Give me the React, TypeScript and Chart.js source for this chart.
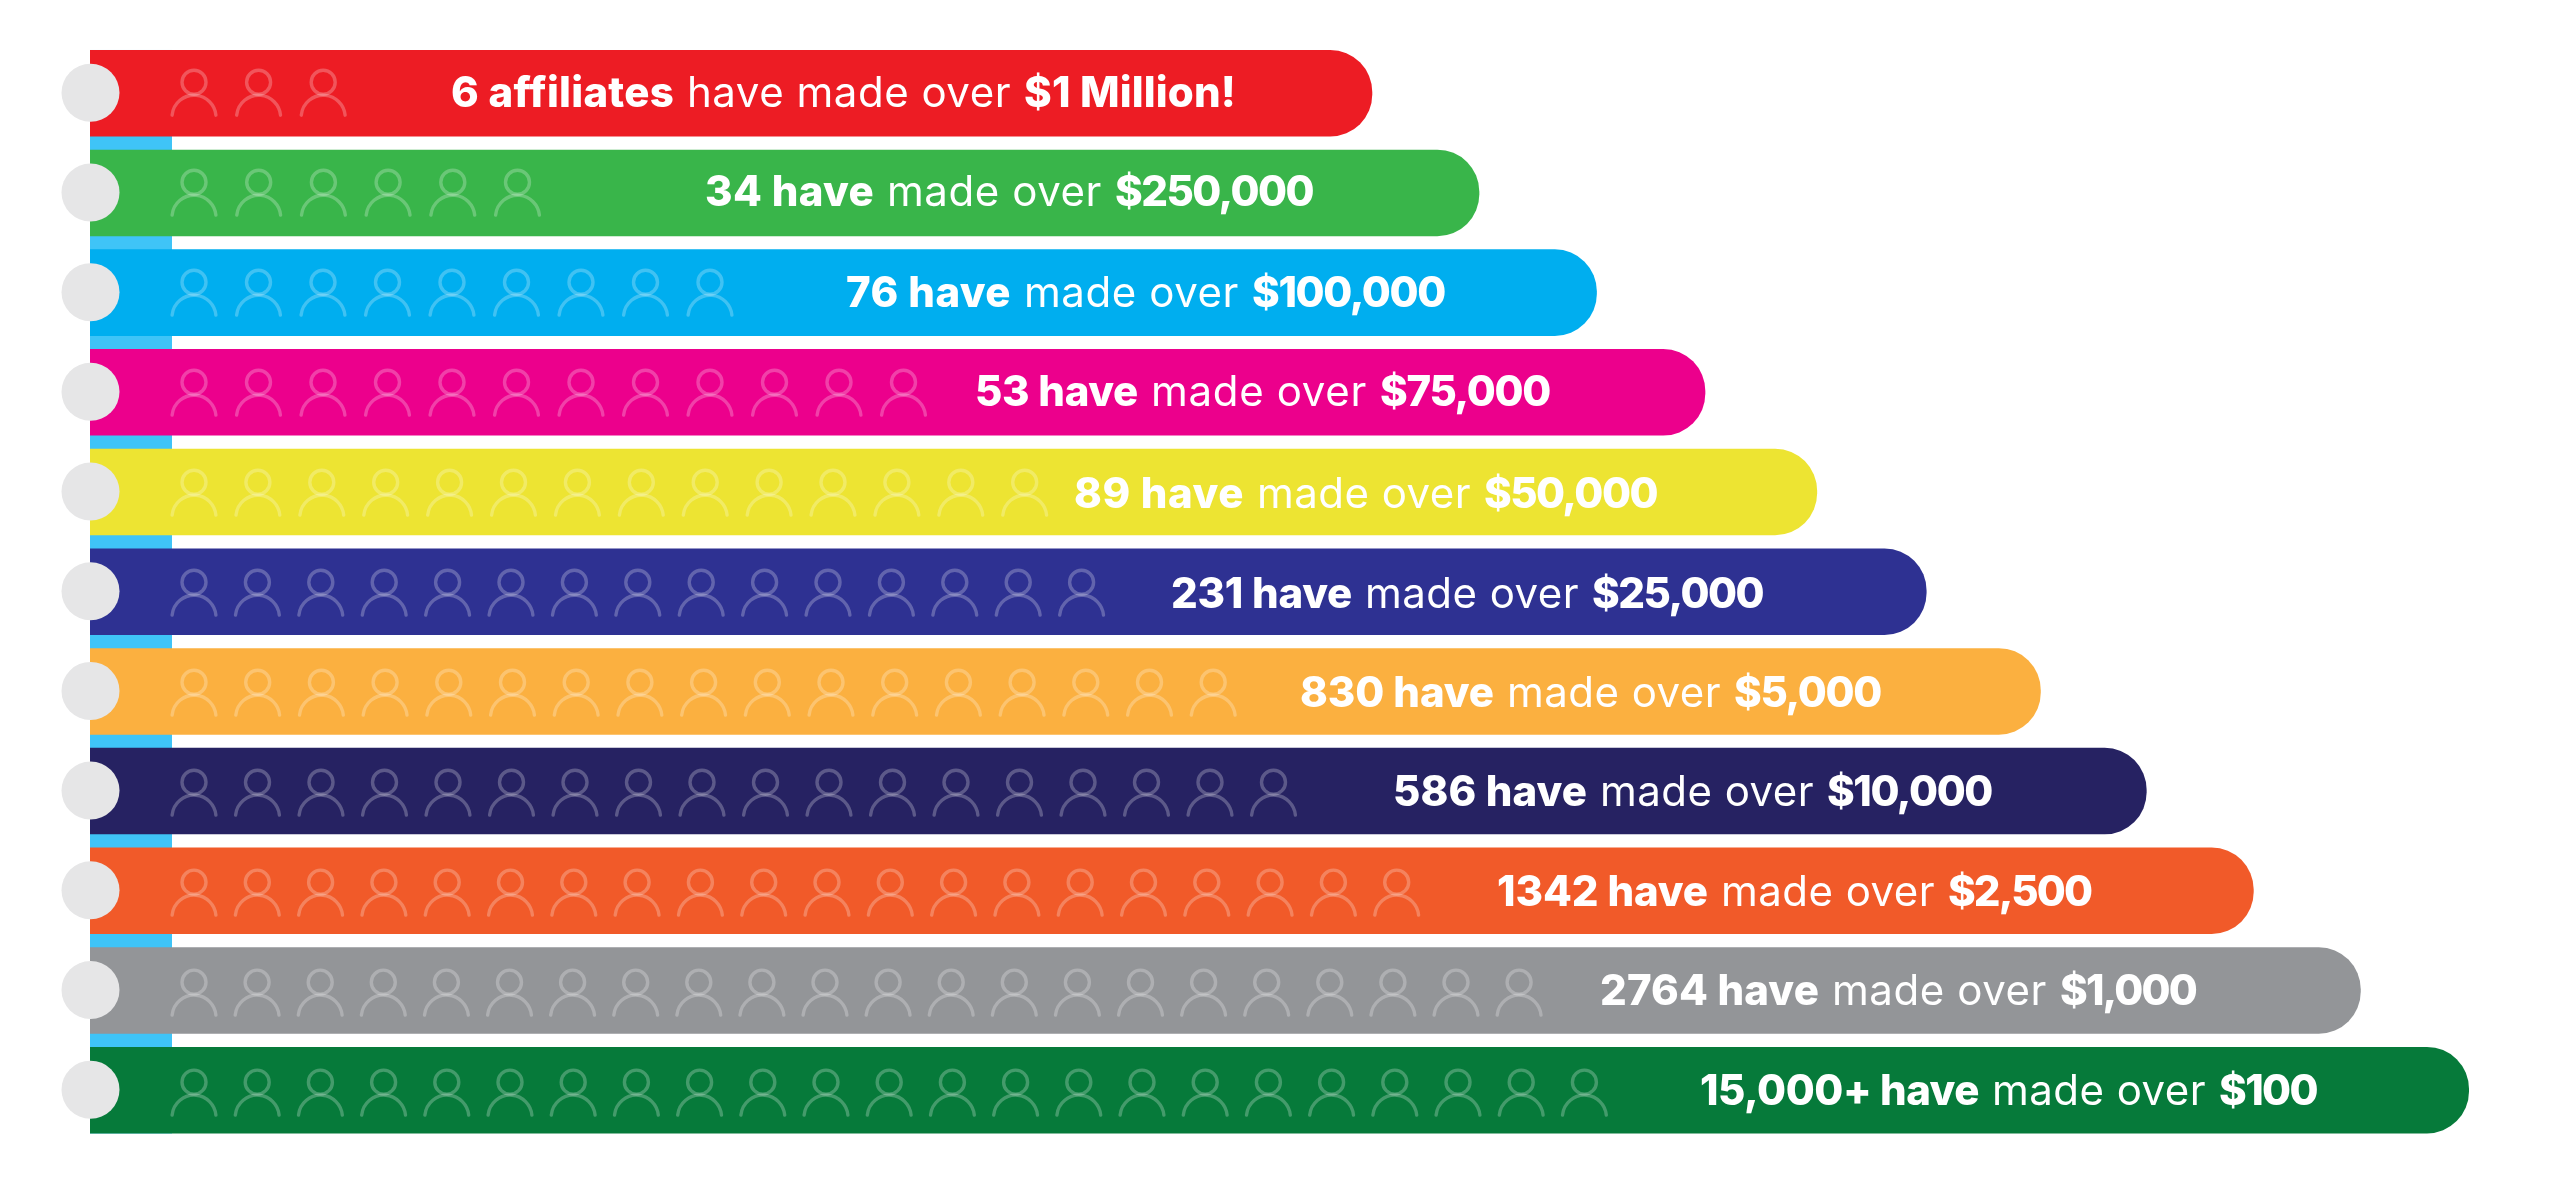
import React, { useEffect, useRef } from "react";
import { Chart, registerables } from "chart.js";

Chart.register(...registerables);

// ---- data ----
const thresholds = ["$1 Million!", "$250,000", "$100,000", "$75,000", "$50,000", "$25,000", "$5,000", "$10,000", "$2,500", "$1,000", "$100"];
const countLabels = ["6 affiliates", "34 have", "76 have", "53 have", "89 have", "231 have", "830 have", "586 have", "1342 have", "2764 have", "15,000+ have"];
const middleLabels = ["have made over", "made over", "made over", "made over", "made over", "made over", "made over", "made over", "made over", "made over", "made over"];
const barLengths = [53.9, 58.4, 63.34, 67.9, 72.6, 77.2, 82.0, 86.45, 90.95, 95.45, 100];
const personIcons = [3, 6, 9, 12, 14, 15, 17, 18, 20, 22, 23];
const barColors = ["#ED1C24", "#39B54A", "#00AEEF", "#EC008C", "#EDE432", "#2E3192", "#FBB040", "#262262", "#F15A29", "#939598", "#067A3A"];

// ---- layout of the overlays, in pixels ----
const textStops = [
  [451, 687, 1024, 1236],
  [705, 887, 1115, 1313],
  [846, 1024, 1252, 1445],
  [975, 1151, 1380, 1550],
  [1074, 1257, 1484, 1657],
  [1171, 1365, 1592, 1763],
  [1300, 1507, 1734, 1881],
  [1393, 1600, 1827, 1992],
  [1497, 1721, 1948, 2091],
  [1600, 1832, 2060, 2196],
  [1700, 1992, 2219, 2317],
];
const textDrop = [14, 13, 14, 14, 16, 16, 16, 15, 15, 15, 15];
const iconPitch = [64.6, 64.7, 64.5, 64.5, 63.9, 63.4, 63.7, 63.5, 63.3, 63.1, 63.2];
const FONT = "Inter, 'Open Sans', sans-serif";

const overlay = {
  id: "overlay",
  beforeDatasetsDraw(chart: any) {
    const { ctx, scales } = chart;
    const meta = chart.getDatasetMeta(0);
    const left = scales.x.getPixelForValue(0);
    const first = meta.data[0];
    const last = meta.data[meta.data.length - 1];
    ctx.save();
    ctx.fillStyle = "#3FC4F7";
    ctx.fillRect(left, first.y - first.height / 2, 82, last.y - first.y + first.height);
    ctx.restore();
  },
  afterDatasetsDraw(chart: any) {
    const { ctx, scales } = chart;
    const meta = chart.getDatasetMeta(0);
    const left = scales.x.getPixelForValue(0);
    ctx.save();
    meta.data.forEach((bar: any, i: number) => {
      const cy = bar.y;
      const shift = i * 0.3;
      // people
      ctx.save();
      (ctx as any).filter = "blur(0.6px)";
      ctx.strokeStyle = "rgba(255,255,255,0.25)";
      ctx.lineWidth = 3.4;
      ctx.lineCap = "round";
      for (let k = 0; k < personIcons[i]; k++) {
        const cx = left + 104 + k * iconPitch[i];
        ctx.beginPath();
        ctx.arc(cx, cy - 11 + shift, 12, 0, Math.PI * 2);
        ctx.stroke();
        ctx.beginPath();
        ctx.arc(cx, cy + 24 + shift, 22, Math.PI * 1.03, Math.PI * 1.97);
        ctx.stroke();
      }
      ctx.restore();
      // grey disc on the spine
      ctx.fillStyle = "#E6E6E7";
      ctx.beginPath();
      ctx.arc(left + 0.5, cy - 0.5, 29, 0, Math.PI * 2);
      ctx.fill();
      // label: bold / regular / bold, each fitted to its span in the picture
      const parts: [string, string][] = [
        [countLabels[i], "800 42px " + FONT],
        [middleLabels[i], "400 42px " + FONT],
        [thresholds[i], "800 42px " + FONT],
      ];
      const stops = textStops[i];
      const ends = [stops[1] - 13, stops[2] - 13, stops[3]];
      ctx.textBaseline = "alphabetic";
      ctx.textAlign = "left";
      ctx.fillStyle = "#FFFFFF";
      parts.forEach(([t, f], p) => {
        ctx.font = f;
        (ctx as any).letterSpacing = "0px";
        const natural = ctx.measureText(t).width;
        const spacing = (ends[p] - stops[p] - natural) / t.length;
        (ctx as any).letterSpacing = spacing.toFixed(2) + "px";
        ctx.fillText(t, stops[p], cy + textDrop[i]);
      });
      (ctx as any).letterSpacing = "0px";
    });
    ctx.restore();
  },
};

export default function App() {
  const ref = useRef<HTMLCanvasElement>(null);
  useEffect(() => {
    document.body.style.margin = "0";
    document.body.style.background = "#fff";
    const chart = new Chart(ref.current!, {
      type: "bar",
      data: {
        labels: thresholds,
        datasets: [
          {
            data: barLengths,
            backgroundColor: barColors,
            borderWidth: 0,
            borderSkipped: false,
            borderRadius: { topLeft: 0, bottomLeft: 0, topRight: 42, bottomRight: 42 },
            barPercentage: 0.868,
            categoryPercentage: 1,
          },
        ],
      },
      plugins: [overlay],
      options: {
        indexAxis: "y",
        animation: false,
        responsive: false,
        devicePixelRatio: 1,
        layout: { padding: { left: 90, right: 91, top: 43.4, bottom: 45 } },
        plugins: { legend: { display: false }, tooltip: { enabled: false }, title: { display: false } },
        scales: {
          x: { display: false, min: 0, max: 100 },
          y: { display: false },
        },
      },
    });
    return () => chart.destroy();
  }, []);
  return <canvas ref={ref} width={2560} height={1185} style={{ display: "block" }} />;
}
